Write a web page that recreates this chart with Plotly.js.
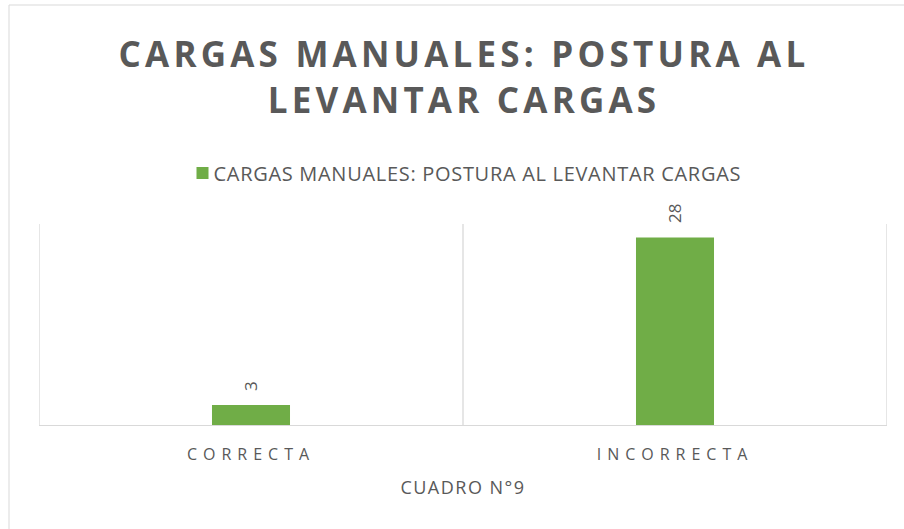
<!DOCTYPE html>
<html>
<head>
<meta charset="utf-8">
<script src="https://cdn.plot.ly/plotly-3.0.1.min.js"></script>
<style>
  html, body { margin: 0; padding: 0; background: #fff; }
  #chart { width: 904px; height: 529px; }
  .xtick text { letter-spacing: 6px; }
  .gtitle { letter-spacing: 4.2px; }
  .legendtext { letter-spacing: 0.7px; transform: translateX(-9px); }
  .g-xtitle text { letter-spacing: 1.5px; }
</style>
</head>
<body>
<div id="chart"></div>
<script>
const categories = ["CORRECTA", "INCORRECTA"];
const values = [3, 28];
const seriesName = "CARGAS MANUALES: POSTURA AL LEVANTAR CARGAS";
const chartTitle = "CARGAS MANUALES: POSTURA AL<br>LEVANTAR CARGAS";
const xAxisTitle = "CUADRO N°9";

const grey = "#595959";
const gridColor = "#d9d9d9";

const boundaries = [];
for (let i = 0; i <= categories.length; i++) boundaries.push(i - 0.5);

const shapes = boundaries.map(b => ({
  type: "line", xref: "x", yref: "paper", x0: b, x1: b, y0: 0, y1: 1,
  line: { color: gridColor, width: 1.3 }, layer: "below"
}));
shapes.push({
  type: "rect", xref: "paper", yref: "paper",
  x0: (9 - 39) / 848, x1: (912 - 39) / 848,
  y0: (425 - 540) / 201, y1: (425 - 5) / 201,
  line: { color: "#d9d9d9", width: 1 }, layer: "below"
});

const labelAnnotations = categories.map((c, i) => ({
  x: c, y: values[i], xref: "x", yref: "y",
  text: String(values[i]),
  showarrow: false,
  textangle: -90,
  xanchor: "center", yanchor: "bottom",
  yshift: 13,
  borderpad: 0,
  font: { family: "Open Sans, sans-serif", size: 17, color: grey }
}));

const trace = {
  type: "bar",
  x: categories,
  y: values,
  name: seriesName,
  marker: { color: "#70ad47" },
  hoverinfo: "none"
};

const layout = {
  width: 904, height: 529,
  margin: { l: 39, r: 17, t: 224, b: 104 },
  paper_bgcolor: "#ffffff",
  plot_bgcolor: "#ffffff",
  bargap: 0.816,
  showlegend: true,
  title: {
    text: chartTitle,
    font: { family: "Open Sans, sans-serif", size: 35, color: grey, weight: "bold" },
    x: 0.5 + 12 / 904, xanchor: "center",
    yref: "container", y: 1 - 67 / 529, yanchor: "top"
  },
  legend: {
    orientation: "h", x: (468 + 1 - 39) / 848, xanchor: "center",
    y: (425 - 173) / 201, yanchor: "middle",
    font: { family: "Open Sans, sans-serif", size: 20, color: grey },
    itemwidth: 30
  },
  xaxis: {
    type: "category",
    range: [-0.5, categories.length - 0.5],
    showgrid: false,
    showline: true, linecolor: gridColor, linewidth: 1.3,
    ticks: "",
    tickfont: { family: "Open Sans, sans-serif", size: 16, color: grey },
    ticklabelstandoff: 14,
    title: {
      text: xAxisTitle,
      font: { family: "Open Sans, sans-serif", size: 18, color: grey },
      standoff: 18
    },
    fixedrange: true
  },
  yaxis: {
    range: [0, 30],
    visible: false,
    showgrid: false,
    zeroline: false,
    fixedrange: true
  },
  shapes: shapes,
  annotations: labelAnnotations
};

Plotly.newPlot("chart", [trace], layout, { displayModeBar: false, staticPlot: true });
</script>
</body>
</html>
